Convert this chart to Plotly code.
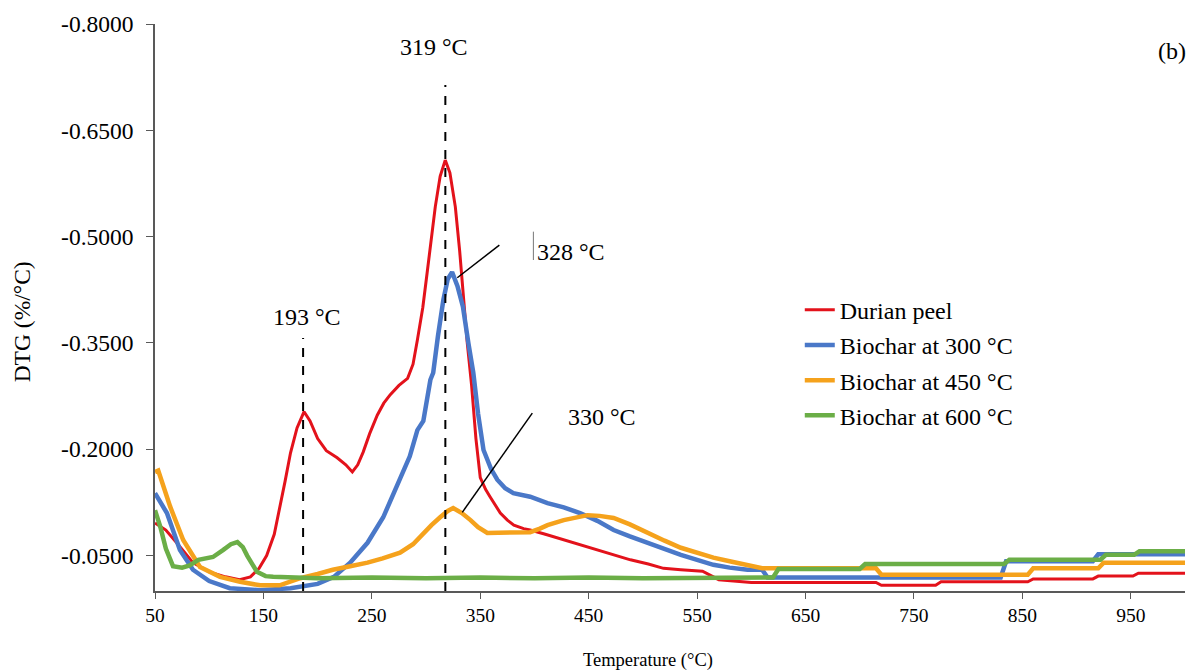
import plotly.graph_objects as go

# ---------------- data ----------------
T_durian = [50, 60, 70, 85, 100, 115, 128, 138, 146, 153, 160, 165, 170, 175, 181, 187.5, 193, 200, 208,
            218, 226, 232, 237, 242, 248, 255, 261, 267, 275, 283, 288, 292, 297, 301, 305, 308.5, 313,
            317.7, 322, 327, 331, 334, 338, 342, 346, 350, 355, 359, 364, 368.5, 375, 381, 390, 396, 410,
            427, 440, 458, 473, 488.5, 505, 519, 535, 555, 565, 570, 600, 715, 720, 770, 775, 855, 860,
            915, 920, 952, 957, 1000]
DTG_durian = [-0.096, -0.086, -0.068, -0.040, -0.027, -0.020, -0.016, -0.020, -0.032, -0.050, -0.080,
              -0.115, -0.155, -0.195, -0.230, -0.253, -0.240, -0.215, -0.198, -0.188, -0.178, -0.168,
              -0.178, -0.196, -0.222, -0.248, -0.265, -0.277, -0.290, -0.300, -0.320, -0.354, -0.400,
              -0.449, -0.500, -0.542, -0.585, -0.608, -0.590, -0.542, -0.480, -0.425, -0.350, -0.290,
              -0.215, -0.160, -0.143, -0.133, -0.120, -0.110, -0.100, -0.093, -0.088, -0.086, -0.080,
              -0.072, -0.066, -0.058, -0.051, -0.044, -0.038, -0.032, -0.030, -0.028, -0.020, -0.016,
              -0.012, -0.012, -0.008, -0.008, -0.013, -0.013, -0.017, -0.017, -0.021, -0.021, -0.025,
              -0.025]

T_b300 = [50, 61, 73, 85, 100, 119, 147, 175, 200, 215, 230, 246, 260.5, 276, 285, 292, 297.5, 304,
          306.6, 311, 316, 320, 324, 329, 334, 339, 343.6, 348, 353, 360, 365.7, 373, 380.5, 396, 412,
          427, 442, 458, 473, 488, 504, 520, 535, 550, 565, 580, 596.5, 610, 615, 830, 835, 915, 920, 1000]
DTG_b300 = [-0.138, -0.110, -0.058, -0.030, -0.014, -0.004, -0.001, -0.004, -0.010, -0.020, -0.040,
            -0.068, -0.104, -0.157, -0.190, -0.227, -0.240, -0.298, -0.308, -0.360, -0.411, -0.440,
            -0.450, -0.430, -0.401, -0.350, -0.308, -0.250, -0.199, -0.172, -0.157, -0.145, -0.138,
            -0.133, -0.124, -0.118, -0.110, -0.099, -0.086, -0.077, -0.068, -0.059, -0.051, -0.044,
            -0.037, -0.033, -0.030, -0.030, -0.019, -0.019, -0.042, -0.042, -0.052, -0.052]

T_b450 = [50, 53, 64, 76, 91.5, 110, 128.5, 147, 165, 184, 200, 214, 230, 246, 260, 276, 288, 297.5,
          305, 313, 320, 325, 333, 341, 348, 356.5, 370, 380.5, 396, 405, 412, 427, 440, 449, 460, 473,
          488, 504, 520, 535, 550, 565, 580, 596.5, 610, 715, 720, 855, 860, 920, 925, 1000]
DTG_b450 = [-0.168, -0.170, -0.119, -0.072, -0.034, -0.020, -0.013, -0.008, -0.008, -0.018, -0.024,
            -0.030, -0.035, -0.040, -0.046, -0.054, -0.066, -0.082, -0.093, -0.104, -0.113, -0.117,
            -0.110, -0.100, -0.090, -0.082, -0.082, -0.082, -0.083, -0.088, -0.093, -0.100, -0.105,
            -0.107, -0.106, -0.103, -0.094, -0.082, -0.071, -0.061, -0.054, -0.047, -0.042, -0.037,
            -0.032, -0.032, -0.023, -0.023, -0.032, -0.032, -0.040, -0.040]

T_b600 = [50, 55, 60, 66.6, 75, 82, 90, 103.5, 113, 120, 126, 131, 135, 144, 152, 159, 200, 250, 300,
          350, 400, 450, 500, 550, 600, 620, 625, 700, 705, 833, 838, 922, 927, 953, 958, 1000]
DTG_b600 = [-0.114, -0.090, -0.060, -0.035, -0.033, -0.036, -0.044, -0.048, -0.058, -0.066, -0.069,
            -0.062, -0.050, -0.027, -0.021, -0.020, -0.018, -0.019, -0.018, -0.019, -0.018, -0.019,
            -0.018, -0.019, -0.019, -0.019, -0.031, -0.031, -0.038, -0.038, -0.044, -0.044, -0.051,
            -0.051, -0.056, -0.056]

series_names = ["Durian peel", "Biochar at 300 °C", "Biochar at 450 °C", "Biochar at 600 °C"]
series_colors = ["#E3121B", "#4A78C8", "#F5A21C", "#6BAE47"]
series_widths = [3, 4.5, 4.5, 4.5]

x_tickvals = [50, 150, 250, 350, 450, 550, 650, 750, 850, 950]
y_tickvals = [-0.80, -0.65, -0.50, -0.35, -0.20, -0.05]
y_ticktext = ["-0.8000", "-0.6500", "-0.5000", "-0.3500", "-0.2000", "-0.0500"]

# peak markers: dashed line temperature, top of line
peak_lines_T = [186.6, 317.8]
peak_lines_top = [-0.357, -0.714]
peak_labels = ["193 °C", "319 °C", "328 °C", "330 °C"]
peak_label_T = [190.3, 307.6, 434.0, 462.7]
peak_label_DTG = [-0.387, -0.768, -0.478, -0.2455]
# leader lines (T0, D0, T1, D1)
leader_lines = [(367.6, -0.488, 328.8, -0.442), (398.0, -0.251, 333.4, -0.111)]

FONT = "Liberation Serif"

fig = go.Figure()
all_T = [T_durian, T_b300, T_b450, T_b600]
all_D = [DTG_durian, DTG_b300, DTG_b450, DTG_b600]
for i in range(4):
    fig.add_trace(go.Scatter(
        x=all_T[i], y=all_D[i], mode="lines", name=series_names[i],
        legendgroup=f"g{i}",
        line=dict(color=series_colors[i], width=series_widths[i]),
    ))

# dashed vertical lines
for t, top in zip(peak_lines_T, peak_lines_top):
    fig.add_shape(type="line", xref="x", yref="y", x0=t, x1=t, y0=0, y1=top,
                  line=dict(color="black", width=2, dash="dash"))
# leader lines
for (a, b, c, d) in leader_lines:
    fig.add_shape(type="line", xref="x", yref="y", x0=a, y0=b, x1=c, y1=d,
                  line=dict(color="black", width=1.5))
# text-cursor artifact beside 328 °C
fig.add_shape(type="line", xref="x", yref="y", x0=399, x1=399, y0=-0.507, y1=-0.467,
              line=dict(color="#777777", width=1))

for txt, t, d in zip(peak_labels, peak_label_T, peak_label_DTG):
    fig.add_annotation(x=t, y=d, xref="x", yref="y", text=txt, showarrow=False,
                       xanchor="center", yanchor="middle",
                       font=dict(family=FONT, size=24, color="black"))

fig.add_annotation(x=0.987, y=0.952, xref="paper", yref="paper", text="(b)", showarrow=False,
                   xanchor="center", yanchor="middle",
                   font=dict(family=FONT, size=24, color="black"))
fig.add_annotation(x=-0.129, y=0.474, xref="paper", yref="paper", text="DTG (%/°C)",
                   textangle=-90, showarrow=False, xanchor="center", yanchor="middle",
                   font=dict(family=FONT, size=23.5, color="black"))
fig.add_annotation(x=0.4786, y=-0.1217, xref="paper", yref="paper", text="Temperature (°C)",
                   showarrow=False, xanchor="center", yanchor="middle",
                   font=dict(family=FONT, size=18.5, color="black"))

fig.update_layout(
    width=1191, height=672,
    margin=dict(l=155, r=6, t=24, b=81),
    paper_bgcolor="white", plot_bgcolor="white",
    font=dict(family=FONT, size=20, color="black"),
    showlegend=True,
    legend=dict(x=0.626, y=0.535, xanchor="left", yanchor="top",
                font=dict(family=FONT, size=24, color="black"),
                bgcolor="rgba(0,0,0,0)", traceorder="grouped", tracegroupgap=1),
    xaxis=dict(range=[50, 1000], tickvals=x_tickvals, ticks="outside", ticklen=6,
               tickcolor="#595959", showline=True, linecolor="#595959", linewidth=1.5,
               showgrid=False, zeroline=False, tickfont=dict(family=FONT, size=19.5)),
    yaxis=dict(range=[0, -0.8], tickvals=y_tickvals, ticktext=y_ticktext, ticks="outside",
               ticklen=7, tickcolor="#595959", showline=True, linecolor="#595959", linewidth=1.5,
               showgrid=False, zeroline=False, ticklabelstandoff=8,
               tickfont=dict(family=FONT, size=23.5)),
)

fig.write_html("out.html")
